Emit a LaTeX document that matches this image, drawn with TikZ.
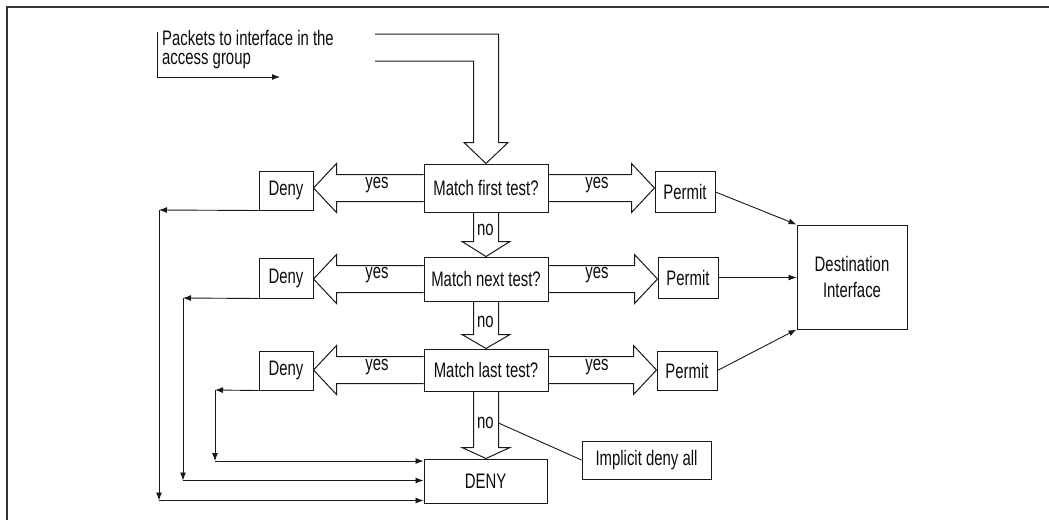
\documentclass[tikz,border=0pt]{standalone}
\usepackage{fontspec}
\setmainfont{Liberation Sans}[FakeStretch=0.71]
\usetikzlibrary{arrows.meta,calc}

% hollow block arrows
\def\shw{13.5pt}\def\hdw{24.5pt}\def\hdl{23pt}
\def\vsw{12.5pt}\def\vhw{24pt}
% horizontal: #1 start point on a box edge, #2 box edge that takes the tip
\newcommand\hblock[2]{%
  \draw[blk] let \p1=#1, \p2=#2, \n1={sign(\x2-\x1)}, \n2={\x2-(\n1)*\hdl} in
    (\x1,\y1+\shw) -- (\n2,\y1+\shw) -- (\n2,\y1+\hdw)
    -- (\x2,\y1) -- (\n2,\y1-\hdw) -- (\n2,\y1-\shw)
    -- (\x1,\y1-\shw);}
% vertical (downwards): #1 start, #2 tip, #3 head length
\newcommand\vblock[3]{%
  \draw[blk] let \p1=#1, \p2=#2 in
    (\x1-\vsw,\y1) -- (\x1-\vsw,\y2+#3) -- (\x1-\vhw,\y2+#3) -- (\x1,\y2)
    -- (\x1+\vhw,\y2+#3) -- (\x1+\vsw,\y2+#3) -- (\x1+\vsw,\y1);}

\begin{document}
\begin{tikzpicture}[x=1pt,y=-1pt,
  every node/.style={font=\fontsize{21}{23}\selectfont, text=black!95},
  box/.style={draw=black!90, line width=1pt, inner sep=0pt},
  blk/.style={draw=black!90, line width=1pt, line join=miter},
  conn/.style={draw=black!90, line width=0.9pt, -{Latex[length=8pt,width=6pt]}},
  lbl/.style={inner sep=0pt}]
\useasboundingbox (0,0) rectangle (1049,520);

% frame
\draw[line width=1.8pt, black!80] (7,520) -- (7,7) -- (1049,7);

% tests
\node[box, minimum width=124pt, minimum height=48pt] (m1) at (486,188) {Match first test?};
\node[box, minimum width=124pt, minimum height=44pt] (m2) at (486,279) {Match next test?};
\node[box, minimum width=124pt, minimum height=42pt] (m3) at (486,370) {Match last test?};

% outcomes
\node[box, minimum width=54pt, minimum height=39pt] (d1) at (286,190.5) {Deny};
\node[box, minimum width=54pt, minimum height=40pt] (d2) at (286,278) {Deny};
\node[box, minimum width=54pt, minimum height=39pt] (d3) at (286,370.5) {Deny};
\node[box, minimum width=60pt, minimum height=41pt] (p1) at (685,192) {Permit};
\node[box, minimum width=60pt, minimum height=41pt] (p2) at (688,277.5) {Permit};
\node[box, minimum width=60pt, minimum height=39pt] (p3) at (687,370.5) {Permit};
\node[box, minimum width=123pt, minimum height=44pt] (deny) at (485.5,481) {DENY};
\node[box, minimum width=110pt, minimum height=104pt, align=center,
      font=\fontsize{21}{26}\selectfont] (dest) at (852,277) {Destination\\Interface};
\node[box, minimum width=129pt, minimum height=38pt] (impl) at (646.5,460) {Implicit deny all};

% incoming packets
\node[lbl, anchor=north west, align=left, font=\fontsize{21}{19.5}\selectfont]
  (pk) at (162,30) {Packets to interface in the\\access group};
\coordinate (e0) at (157,32);
\coordinate (e1) at (157,77);
\coordinate (e2) at (280,77);
\draw[conn] (e0) -- (e1) -- (e2);

% entry block arrow into the first test
\coordinate (in) at (375,47.5);
\draw[blk] let \p1=(in), \p2=(m1.north) in
  (\x1,\y1+13.5pt) -- (\x2+12.5pt,\y1+13.5pt) -- (\x2+12.5pt,\y2+21pt)
  -- (\x2+22pt,\y2+21pt) -- (\x2,\y2) -- (\x2-22pt,\y2+21pt)
  -- (\x2-12.5pt,\y2+21pt) -- (\x2-12.5pt,\y1-13.5pt) -- (\x1,\y1-13.5pt);

% yes branches
\hblock{(m1.west)}{(d1.east)}
\hblock{(m1.east)}{(p1.west)}
\hblock{(m2.west)}{(d2.east)}
\hblock{(m2.east)}{(p2.west)}
\hblock{(m3.west)}{(d3.east)}
\hblock{(m3.east)}{(p3.west)}
\foreach \yy in {185,275,367} {
  \node[lbl] at (377,\yy) {yes};
  \node[lbl] at (597,\yy) {yes};
}

% no branches
\vblock{(m1.south)}{(m2.north)}{15pt}
\vblock{(m2.south)}{(m3.north)}{14pt}
\vblock{(m3.south)}{(deny.north)}{11pt}
\node[lbl, anchor=west] at (477,230) {no};
\node[lbl, anchor=west] at (477,322) {no};
\node[lbl, anchor=west] at (477,423) {no};

% implicit deny note
\coordinate (nc) at (498.5,423);
\draw[black!90, line width=0.9pt] (nc) -- (impl.west);

% permitted packets to the destination
\draw[conn] (p1.east) -- (dest.north west);
\draw[conn] (p2.east) -- (p2.east -| dest.west);
\draw[conn] (p3.east) -- (dest.south west);

% denied packets routed to DENY
\coordinate (r1a) at (159,210);  \coordinate (r1b) at (159,500.5);
\coordinate (r2a) at (183,298);  \coordinate (r2b) at (183,480.5);
\coordinate (r3a) at (215,390);  \coordinate (r3b) at (215,461);
\draw[conn] (d1.south west) -- (r1a);
\draw[conn] (r1a) -- (r1b);
\draw[conn] (r1b) -- (r1b -| deny.west);
\draw[conn] (d2.south west) -- (r2a);
\draw[conn] (r2a) -- (r2b);
\draw[conn] (r2b) -- (r2b -| deny.west);
\draw[conn] (d3.south west) -- (r3a);
\draw[conn] (r3a) -- (r3b);
\draw[conn] (r3b) -- (r3b -| deny.west);
\end{tikzpicture}
\end{document}
